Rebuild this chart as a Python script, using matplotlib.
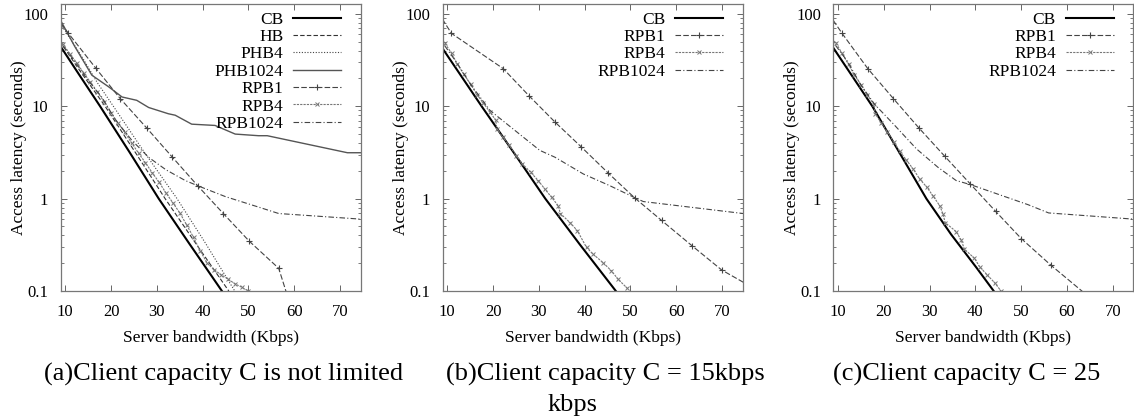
import matplotlib
matplotlib.use('Agg')
import matplotlib.pyplot as plt
from matplotlib.ticker import LogLocator, NullFormatter, FixedLocator, FixedFormatter

plt.rcParams['font.family'] = ['Liberation Serif', 'DejaVu Serif']

# ---- data (x = server bandwidth Kbps, y = latency s) ----
# (a) client capacity not limited
a_cb_x = [9.1, 13, 17.6, 24, 30.4, 37, 44.2]
a_cb_y = [43.5, 22.1, 10, 3.2, 1.0, 0.33, 0.1]
a_hb_x = [8, 13, 18.7, 25.3, 31.8, 38.7, 45.7]
a_hb_y = [58, 25, 10, 3.16, 1.0, 0.316, 0.1]
a_phb4_x = [8, 11, 14, 17, 20.5, 27.3, 34.4, 40.6, 47]
a_phb4_y = [92, 55, 32, 18, 10, 3.16, 1.0, 0.33, 0.1]
a_phb1024_x = [8, 9.1, 12, 15.8, 19.5, 22.4, 25.6, 28.2, 32.5, 34, 37.6, 42.7,
               47.1, 52.2, 54.1, 71.6, 74.5]
a_phb1024_y = [95, 83, 45, 21.7, 16.2, 12.6, 11.6, 9.7, 8.3, 8.0, 6.4, 6.2,
               5.0, 4.8, 4.8, 3.14, 3.14]
a_rpb1_x = [8, 10.7, 16.7, 22, 27.8, 33.3, 38.9, 44.5, 50.2, 56.6, 61.5]
a_rpb1_y = [92, 61.5, 25.7, 12.1, 5.8, 2.84, 1.38, 0.69, 0.345, 0.176, 0.03]
a_rpb4_x = [8, 9.5, 11, 12.5, 14, 15.5, 17, 18.5, 20, 21.5, 23, 24.5, 26, 27.5,
            29, 30.5, 32, 33.5, 35, 36.5, 38, 39.5, 41, 42.5, 44, 45.5, 47,
            48.5, 50]
a_rpb4_y = [58, 47, 37, 29.5, 23, 18.2, 14.3, 11.2, 8.5, 6.6, 5.2, 4.0, 3.1,
            2.45, 1.9, 1.5, 1.15, 0.9, 0.7, 0.52, 0.38, 0.27, 0.2, 0.17, 0.15,
            0.135, 0.12, 0.11, 0.1]
a_rpb1024_x = [8, 12, 15, 18, 20.9, 24.5, 28.2, 32, 36.2, 38.9, 45, 52.2, 56.6, 74.5]
a_rpb1024_y = [56, 31, 19, 12.5, 7.2, 4.3, 2.8, 2.05, 1.57, 1.38, 1.05, 0.81, 0.69, 0.60]

# (b) client capacity C = 15kbps
b_cb_x = [8.8, 13, 17.5, 24.5, 31.4, 39, 46.8]
b_cb_y = [43.5, 21.4, 10, 3.16, 1.0, 0.316, 0.1]
b_rpb1_x = [8, 10.9, 22.2, 27.9, 33.5, 39.3, 45.1, 50.9, 56.8, 63.4, 69.9, 75.7]
b_rpb1_y = [104, 61.6, 25.6, 12.9, 6.76, 3.61, 1.9, 1.02, 0.58, 0.31, 0.169, 0.116]
b_rpb4_x = [8, 9.5, 10.95, 12.2, 13.6, 15.1, 16.55, 17.85, 19.3, 20.6, 20.8, 22.1,
            23.5, 25.1, 26.4, 28.2, 29.85, 31.3, 32.8, 34.2, 34.7, 36.8, 38.4,
            40.4, 41.85, 44, 45.85, 47.3, 49.3]
b_rpb4_y = [57, 48, 37.3, 28.6, 22.3, 17.3, 13.2, 10.9, 8.67, 7.05, 5.72, 4.64,
            3.77, 2.93, 2.38, 1.93, 1.57, 1.27, 1.03, 0.84, 0.69, 0.55, 0.45,
            0.296, 0.25, 0.203, 0.165, 0.134, 0.107]
b_rpb1024_x = [8, 12, 15, 19.3, 21.1, 30.2, 33.5, 39.7, 45.5, 51, 52.8, 74.6]
b_rpb1024_y = [57, 30, 17.5, 9.06, 7.66, 3.33, 2.81, 1.85, 1.38, 1.02, 0.93, 0.69]

# (c) client capacity C = 25kbps
c_cb_x = [8.9, 13, 17.5, 23.5, 29.3, 34.7, 40.2, 44]
c_cb_y = [43.5, 21.6, 10, 3.1, 1.0, 0.41, 0.18, 0.1]
c_rpb1_x = [8, 10.9, 16.5, 22.1, 27.7, 33.3, 38.9, 44.4, 50, 56.5, 67]
c_rpb1_y = [100, 61.5, 25.6, 12.1, 5.8, 2.88, 1.44, 0.73, 0.37, 0.19, 0.07]
c_rpb4_x = [8, 9.6, 10.9, 12.3, 13.6, 15.1, 16.4, 17.85, 18.15, 19.45, 20.8, 22.2,
            23.45, 24.9, 26.4, 27.8, 29.4, 30.7, 32.2, 32.9, 33.4, 35.8, 36.9,
            37.6, 39.8, 40.9, 42.6, 44.2, 45.6]
c_rpb4_y = [57, 48, 37.3, 28.4, 21.7, 16.9, 13.2, 10.5, 8.3, 6.6, 5.26, 4.1, 3.27,
            2.63, 2.1, 1.64, 1.33, 1.08, 0.84, 0.69, 0.55, 0.44, 0.356, 0.284,
            0.226, 0.184, 0.149, 0.123, 0.1]
c_rpb1024_x = [8, 12, 15, 18, 22.4, 27.1, 31.8, 35.8, 38.9, 51.5, 56, 74.5]
c_rpb1024_y = [57, 31, 17, 10.5, 6.2, 3.47, 2.19, 1.57, 1.42, 0.86, 0.70, 0.60]

x_ticks = [10, 20, 30, 40, 50, 60, 70]
y_ticks = [0.1, 1, 10, 100]
y_tick_labels = ['0.1', '1', '10', '100']
captions = ['(a)Client capacity C is not limited',
            '(b)Client capacity C = 15kbps',
            '(c)Client capacity C = 25']

# line styles per series
styles = {
    'CB': dict(color='black', lw=1.5, ls='-'),
    'HB': dict(color='#333333', lw=0.8, dashes=(4, 2)),
    'PHB4': dict(color='#444444', lw=0.8, dashes=(1, 1.5)),
    'PHB1024': dict(color='#555555', lw=1.0, ls='-'),
    'RPB1': dict(color='#444444', lw=0.8, dashes=(5, 2), marker='+', ms=4.5, mew=0.8),
    'RPB4': dict(color='#777777', lw=0.8, dashes=(2, 1), marker='x', ms=3, mew=0.7),
    'RPB1024': dict(color='#444444', lw=0.8, dashes=(5, 2, 1, 2)),
}

panels = [
    [('CB', a_cb_x, a_cb_y), ('HB', a_hb_x, a_hb_y), ('PHB4', a_phb4_x, a_phb4_y),
     ('PHB1024', a_phb1024_x, a_phb1024_y), ('RPB1', a_rpb1_x, a_rpb1_y),
     ('RPB4', a_rpb4_x, a_rpb4_y), ('RPB1024', a_rpb1024_x, a_rpb1024_y)],
    [('CB', b_cb_x, b_cb_y), ('RPB1', b_rpb1_x, b_rpb1_y),
     ('RPB4', b_rpb4_x, b_rpb4_y), ('RPB1024', b_rpb1024_x, b_rpb1024_y)],
    [('CB', c_cb_x, c_cb_y), ('RPB1', c_rpb1_x, c_rpb1_y),
     ('RPB4', c_rpb4_x, c_rpb4_y), ('RPB1024', c_rpb1024_x, c_rpb1024_y)],
]

W, H = 1134, 419
fig = plt.figure(figsize=(W / 100, H / 100), dpi=100)

lefts = [60.7, 442.7, 833.4]
caption_pos = [(224, 374), (605, 374), (967, 374)]

for i, series in enumerate(panels):
    ax = fig.add_axes([lefts[i] / W, (H - 291) / H, 300 / W, 287 / H])
    for name, xs, ys in series:
        ax.plot(xs, ys, label=name, **styles[name])
    ax.set_yscale('log')
    ax.set_xlim(9, 74.5)
    ax.set_ylim(0.1, 128)
    ax.xaxis.set_major_locator(FixedLocator(x_ticks))
    ax.yaxis.set_major_locator(FixedLocator(y_ticks))
    ax.yaxis.set_major_formatter(FixedFormatter(y_tick_labels))
    ax.yaxis.set_minor_locator(LogLocator(base=10, subs=range(2, 10)))
    ax.yaxis.set_minor_formatter(NullFormatter())
    ax.tick_params(which='both', direction='in', top=True, right=True,
                   labelsize=12, pad=9, color='#666666')
    ax.tick_params(which='major', length=4.5, width=0.7)
    ax.tick_params(which='minor', length=2.5, width=0.6)
    for sp in ax.spines.values():
        sp.set_color('#777777')
        sp.set_linewidth(0.9)

    ax.set_xlabel('Server bandwidth (Kbps)', fontsize=12.5)
    ax.xaxis.label.set_verticalalignment('center')
    ax.xaxis.set_label_coords(0.5, -(337.5 - 291) / 287)
    ax.set_ylabel('Access latency (seconds)', fontsize=12.5)
    ax.yaxis.label.set_verticalalignment('center')
    ax.yaxis.set_label_coords(-0.138, 0.5)

    ax.legend(loc='upper right', bbox_to_anchor=(0.959, 0.998), frameon=False,
              markerfirst=False, fontsize=12.5, handlelength=2.8,
              labelspacing=0.07, borderaxespad=0.0, handletextpad=0.55)

    cx, cy = caption_pos[i]
    fig.text(cx / W, 1 - cy / H, captions[i], fontsize=19, ha='center', va='center')

fig.text(573 / W, 1 - 405 / H, 'kbps', fontsize=19, ha='center', va='center')

fig.savefig('out.png', dpi=100)
